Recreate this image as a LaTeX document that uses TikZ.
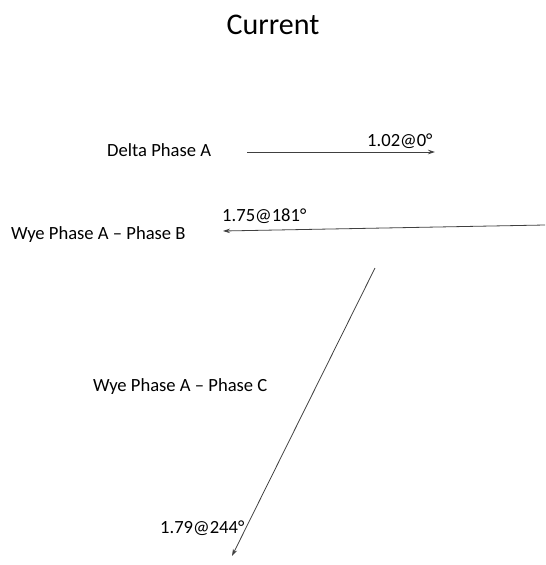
\documentclass[tikz,border=0pt]{standalone}
\usepackage{fontspec}
\setmainfont{Carlito}
\usetikzlibrary{arrows.meta}
\begin{document}
\begin{tikzpicture}[x=1pt,y=-1pt,
  txt/.style={inner sep=0pt, anchor=base west, font=\fontsize{18.6}{22}\selectfont},
  vec/.style={draw=black!75, line width=0.8pt, -{Stealth[length=7pt,width=4.5pt]}}]
\useasboundingbox (0,0) rectangle (546,565);
\node[inner sep=0pt, font=\fontsize{30}{36}\selectfont] (title) at (273,25) {Current};
\node[txt] (delta) at (107,156) {Delta Phase A};
\node[txt] (l1) at (367,146) {1.02@0°};
\coordinate (a1s) at (247,152);
\coordinate (a1e) at (435,152);
\draw[vec] (a1s) -- (a1e);
\node[txt] (wyeb) at (11,239) {Wye Phase A – Phase B};
\node[txt] (l2) at (222,221) {1.75@181°};
\coordinate (a2s) at (545,225);
\coordinate (a2e) at (223,231);
\draw[vec] (a2s) -- (a2e);
\node[txt] (wyec) at (93,391) {Wye Phase A – Phase C};
\node[txt] (l3) at (160,533) {1.79@244°};
\coordinate (a3s) at (375,268);
\coordinate (a3e) at (232,556);
\draw[vec] (a3s) -- (a3e);
\end{tikzpicture}
\end{document}
